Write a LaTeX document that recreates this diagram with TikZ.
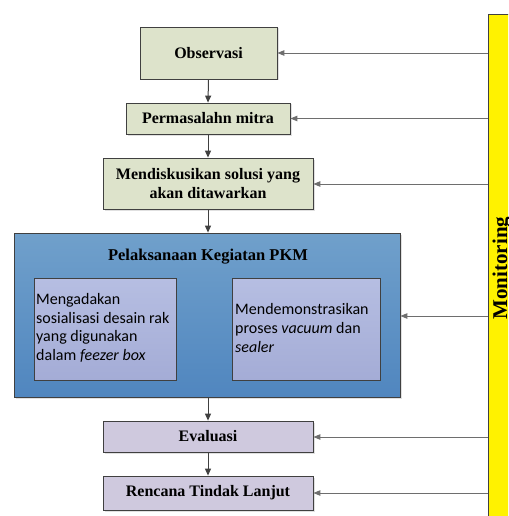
\documentclass[tikz,border=0pt]{standalone}
\usepackage{fontspec}
\setmainfont{Liberation Serif}
\newfontfamily\carl{Carlito}
\usetikzlibrary{arrows.meta,shadows}
\definecolor{greenbox}{RGB}{221,227,203}
\definecolor{purplebox}{RGB}{207,201,222}
\definecolor{bluetop}{RGB}{112,160,203}
\definecolor{bluebot}{RGB}{80,134,191}
\definecolor{lavtop}{RGB}{182,190,226}
\definecolor{lavbot}{RGB}{164,172,214}
\definecolor{edgegray}{RGB}{64,64,64}
\definecolor{armgray}{RGB}{110,110,110}
\tikzset{
  boxbase/.style={draw=edgegray, line width=0.8pt, align=center, inner sep=2pt,
    font=\bfseries\fontsize{16}{18}\selectfont,
    drop shadow={shadow xshift=1.5pt, shadow yshift=-1.5pt, fill=black!12, opacity=1}},
  greennode/.style={boxbase, fill=greenbox},
  purplenode/.style={boxbase, fill=purplebox},
  innerbox/.style={draw=edgegray, line width=0.8pt, top color=lavtop, bottom color=lavbot, minimum height=102pt},
  innertext/.style={anchor=west, align=left, inner sep=0pt, font=\carl\fontsize{16}{18.7}\selectfont},
  flow/.style={draw=edgegray, line width=1pt, -{Triangle[length=7pt,width=6pt]}},
  feed/.style={draw=armgray, line width=0.9pt, -{Triangle[length=7pt,width=5.5pt]}}
}
\begin{document}
\begin{tikzpicture}[x=1pt,y=-1pt]
\useasboundingbox (0,0) rectangle (508,516);
\clip (0,0) rectangle (508,516);
\fill[white] (0,0) rectangle (508,516);
% monitoring bar
\node[draw=edgegray, line width=0.8pt, fill=yellow, minimum width=34pt, minimum height=520pt, anchor=north west, inner sep=0pt] (bar) at (488,14) {};
\node[rotate=90, anchor=base, font=\bfseries\fontsize{21}{24}\selectfont] (mon) at (507,268) {Monitoring};
% nodes
\node[greennode, minimum width=137pt, minimum height=52pt] (obs) at (208.5,53) {Observasi};
\node[greennode, minimum width=164pt, minimum height=31pt] (perm) at (208,118.5) {Permasalahn mitra};
\node[greennode, minimum width=210pt, minimum height=51pt, font=\bfseries\fontsize{16}{18.5}\selectfont] (disk) at (208,183.5) {Mendiskusikan solusi yang\\akan ditawarkan};
\node[draw=edgegray, line width=0.8pt, top color=bluetop, bottom color=bluebot, minimum width=386pt, minimum height=164pt, inner sep=0pt,
  drop shadow={shadow xshift=1.5pt, shadow yshift=-1.5pt, fill=black!12, opacity=1}] (pkm) at (207,315) {};
\node[font=\bfseries\fontsize{16.5}{18}\selectfont] (pkmtitle) at (208,257) {Pelaksanaan Kegiatan PKM};
\node[innerbox, minimum width=142pt] (inl) at (105,329) {};
\node[innerbox, minimum width=148pt] (inr) at (306,329) {};
\node[innertext] (inltext) at (36,328) {Mengadakan\\sosialisasi desain rak\\yang digunakan\\dalam \textit{feezer box}};
\node[innertext] (inrtext) at (235,328) {Mendemonstrasikan\\proses \textit{vacuum} dan\\\textit{sealer}};
\node[purplenode, minimum width=210pt, minimum height=31pt] (eva) at (208,436.5) {Evaluasi};
\node[purplenode, minimum width=210pt, minimum height=34pt] (ren) at (208,493) {Rencana Tindak Lanjut};
% flow arrows
\draw[flow] (obs.south) -- (perm.north);
\draw[flow] (perm.south) -- (disk.north);
\draw[flow] (disk.south) -- (disk.south |- pkm.north);
\draw[flow] (pkm.south -| eva.north) -- (eva.north);
\draw[flow] (eva.south) -- (ren.north);
% feedback arrows
\coordinate (b1) at (488,53);
\coordinate (b2) at (488,118.5);
\coordinate (b3) at (488,184);
\coordinate (b4) at (488,316);
\coordinate (b5) at (488,437);
\coordinate (b6) at (488,493);
\draw[feed] (b1) -- (b1 -| obs.east);
\draw[feed] (b2) -- (b2 -| perm.east);
\draw[feed] (b3) -- (b3 -| disk.east);
\draw[feed] (b4) -- (b4 -| pkm.east);
\draw[feed] (b5) -- (b5 -| eva.east);
\draw[feed] (b6) -- (b6 -| ren.east);
\end{tikzpicture}
\end{document}
